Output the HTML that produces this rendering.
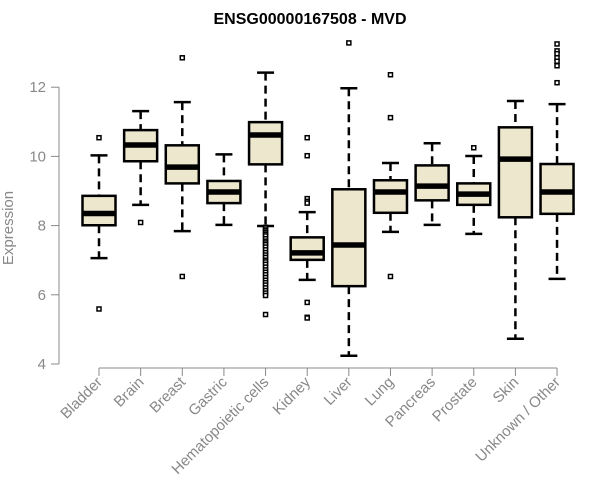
<!DOCTYPE html>
<html><head><meta charset="utf-8"><style>
body{margin:0;background:#fff;}
svg{display:block;font-family:"Liberation Sans",Arial,sans-serif;}
</style></head><body>
<svg id="chart" width="600" height="500" viewBox="0 0 600 500">
<text x="310" y="24" text-anchor="middle" font-weight="bold" font-size="16">ENSG00000167508 - MVD</text>
<text transform="translate(13,228) rotate(-90)" text-anchor="middle" font-size="15" fill="#888">Expression</text>
<g id="axes"></g>
<g id="boxes"></g>
</svg>
<script>
const categories=["Bladder","Brain","Breast","Gastric","Hematopoietic cells","Kidney","Liver","Lung","Pancreas","Prostate","Skin","Unknown / Other"];
const whiskLow=[7.06,8.6,7.84,8.02,7.99,6.43,4.24,7.82,8.02,7.76,4.73,6.46];
const q1=[8.01,9.86,9.22,8.65,9.77,7.01,6.25,8.37,8.73,8.6,8.24,8.34];
const medians=[8.35,10.33,9.69,8.97,10.62,7.21,7.44,8.97,9.14,8.91,9.92,8.97];
const q3=[8.86,10.76,10.32,9.29,10.99,7.66,9.05,9.31,9.74,9.22,10.84,9.78];
const whiskHigh=[10.03,11.31,11.57,10.06,12.42,8.39,11.97,9.81,10.38,10.01,11.6,11.51];
const outliers=[[10.54,5.59],[8.09],[12.85,6.53],[],
[7.95,7.9,7.85,7.8,7.75,7.7,7.62,7.55,7.5,7.45,7.38,7.3,7.22,7.15,7.08,7.0,6.95,6.88,6.8,6.72,6.65,6.58,6.5,6.42,6.35,6.28,6.2,6.12,6.05,5.98,5.43],
[10.54,10.02,8.78,8.7,8.65,5.78,5.35,5.33],[13.28],[12.36,11.12,6.53],[],[10.25],[],
[13.25,13.05,12.97,12.85,12.75,12.62,12.13]];
const yTicks=[4,6,8,10,12];
const NS="http://www.w3.org/2000/svg";
function y(v){return 364-(v-4)*34.6;}
function x(i){return 99+i*41.64;}
function mk(t,a,p){const e=document.createElementNS(NS,t);for(const k in a)e.setAttribute(k,a[k]);p.appendChild(e);return e;}
const ax=document.getElementById('axes'),bx=document.getElementById('boxes');
let l=mk('line',{x1:59,x2:59,y1:y(12),y2:y(4),stroke:'#888','stroke-width':1},ax);


yTicks.forEach(t=>{
 let tk=mk('line',{x1:51,x2:59,y1:y(t),y2:y(t),stroke:'#888'},ax);
 
 
 let tx=mk('text',{x:46,y:y(t)+5,'text-anchor':'end','font-size':15,fill:'#888'},ax);
 tx.textContent=t;
 
 
});
l=mk('line',{x1:x(0),x2:x(11),y1:368,y2:368,stroke:'#888'},ax);


categories.forEach((c,i)=>{
 const cx=x(i);
 let tk=mk('line',{x1:cx,x2:cx,y1:368,y2:376,stroke:'#888'},ax);
 
 
 let tx=mk('text',{transform:`translate(${cx+4},${383}) rotate(-45)`,'text-anchor':'end','font-size':15,fill:'#888'},ax);
 tx.textContent=c;
 
 
 const g=mk('g',{},bx);
 
 
 mk('line',{x1:cx,x2:cx,y1:y(whiskHigh[i]),y2:y(q3[i]),stroke:'#000','stroke-width':2.5,'stroke-dasharray':'8,5'},g);
 mk('line',{x1:cx,x2:cx,y1:y(q1[i]),y2:y(whiskLow[i]),stroke:'#000','stroke-width':2.5,'stroke-dasharray':'8,5'},g);
 mk('line',{x1:cx-8.5,x2:cx+8.5,y1:y(whiskHigh[i]),y2:y(whiskHigh[i]),stroke:'#000','stroke-width':2.5},g);
 mk('line',{x1:cx-8.5,x2:cx+8.5,y1:y(whiskLow[i]),y2:y(whiskLow[i]),stroke:'#000','stroke-width':2.5},g);
 mk('rect',{x:cx-16.5,y:y(q3[i]),width:33,height:y(q1[i])-y(q3[i]),fill:'#ede7cd',stroke:'#000','stroke-width':2.5},g);
 mk('line',{x1:cx-16.5,x2:cx+16.5,y1:y(medians[i]),y2:y(medians[i]),stroke:'#000','stroke-width':5.5},g);
 outliers[i].forEach(v=>{
  let o=mk('rect',{x:cx-2,y:y(v)-2,width:4,height:4,fill:'#fff',stroke:'#000','stroke-width':1.5},g);
  
  
 });
});
</script>
</body></html>
